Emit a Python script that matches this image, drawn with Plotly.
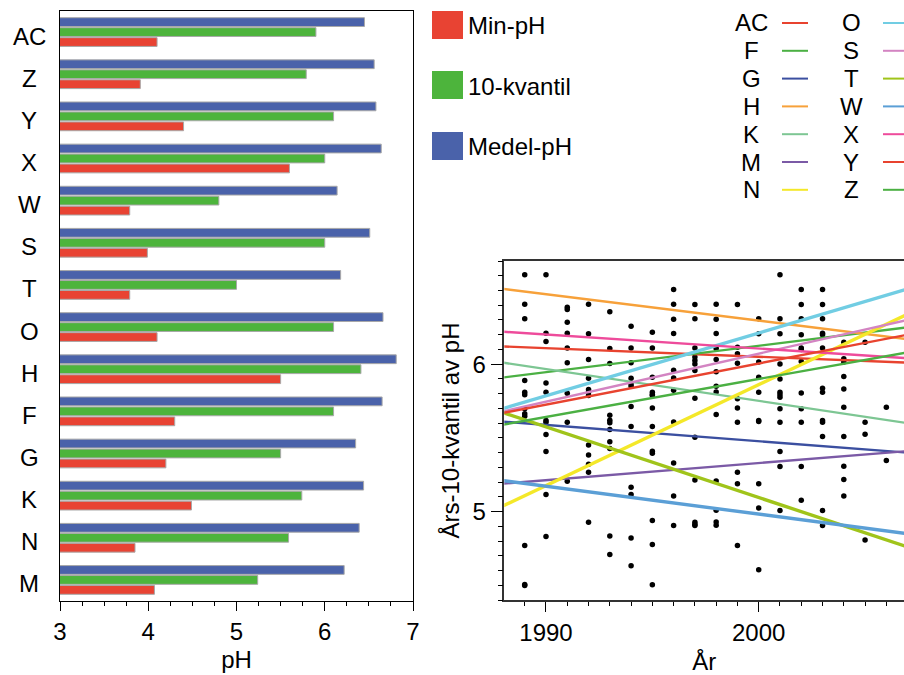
import plotly.graph_objects as go

# ---------------- Data: bar chart ----------------
stations = ["M", "N", "K", "G", "F", "H", "O", "T", "S", "W", "X", "Y", "Z", "AC"]
min_ph =    [4.07, 3.85, 4.49, 4.20, 4.30, 5.50, 4.10, 3.79, 3.99, 3.79, 5.60, 4.40, 3.91, 4.10]
kvantil10 = [5.24, 5.59, 5.74, 5.50, 6.10, 6.41, 6.10, 5.00, 6.00, 4.80, 6.00, 6.10, 5.79, 5.90]
medel_ph =  [6.22, 6.39, 6.44, 6.35, 6.65, 6.81, 6.66, 6.18, 6.51, 6.14, 6.64, 6.58, 6.56, 6.45]

bar_names = ["Min-pH", "10-kvantil", "Medel-pH"]
bar_colors = ["#e84333", "#4db43c", "#4a62aa"]

# ---------------- Data: scatter (annual 10-quantile) ----------------
dot_years = {
    1989: [6.606, 6.407, 6.308, 5.889, 5.810, 5.792, 5.697, 5.663, 5.647, 4.769, 4.498, 4.505],
    1990: [6.606, 6.210, 6.154, 5.873, 5.810, 5.618, 5.606, 5.523, 5.407, 5.115, 4.830],
    1991: [6.387, 6.371, 6.285, 6.210, 6.109, 6.009, 5.803, 5.606, 5.206],
    1992: [6.407, 6.206, 6.032, 5.905, 5.828, 5.810, 5.787, 5.452, 5.384, 5.321, 5.267, 4.927],
    1993: [6.355, 6.107, 6.005, 5.654, 5.620, 5.602, 5.557, 5.473, 5.428, 4.834, 4.708],
    1994: [6.258, 6.109, 6.009, 5.905, 5.866, 5.850, 5.713, 5.577, 5.165, 5.115, 4.821, 4.633],
    1995: [6.217, 6.109, 5.912, 5.810, 5.795, 5.787, 5.703, 5.577, 5.409, 5.396, 4.939, 4.776, 4.504],
    1996: [6.507, 6.407, 6.305, 6.208, 5.959, 5.907, 5.823, 5.608, 5.330, 5.106, 4.905],
    1997: [6.405, 6.308, 6.109, 6.048, 6.025, 6.002, 5.957, 5.769, 5.504, 5.215, 4.927, 4.912, 4.905],
    1998: [6.407, 6.305, 6.208, 6.107, 6.032, 5.948, 5.851, 5.812, 5.658, 5.208, 5.009, 4.929, 4.907],
    1999: [6.405, 6.115, 6.070, 6.007, 5.765, 5.703, 5.606, 5.267, 5.188, 4.769],
    2000: [6.308, 6.206, 6.014, 5.912, 5.810, 5.618, 5.611, 5.188, 5.025, 4.606],
    2001: [6.606, 6.308, 6.206, 6.002, 5.900, 5.810, 5.792, 5.776, 5.697, 5.606, 5.407, 5.306, 5.007],
    2002: [6.507, 6.405, 6.308, 6.199, 6.109, 6.100, 6.018, 5.805, 5.697, 5.606, 5.306, 5.077],
    2003: [6.507, 6.405, 6.308, 6.210, 6.199, 6.109, 5.837, 5.810, 5.618, 5.606, 5.509, 5.007, 4.905],
    2004: [6.149, 6.036, 6.014, 5.916, 5.832, 5.708, 5.509, 5.308, 5.217, 5.106],
    2005: [6.149, 5.606, 5.525, 4.807],
    2006: [5.708, 5.346],
}

# Trend lines per station: value at start year and end year
trend_years = [1988, 2007]
trend_names = ["AC", "F", "G", "H", "K", "M", "N", "O", "S", "T", "W", "X", "Y", "Z"]
trend_start = [6.12, 5.91, 5.61, 6.51, 6.01, 5.19, 5.04, 5.70, 5.68, 5.67, 5.21, 6.22, 5.67, 5.59]
trend_end =   [6.01, 6.25, 5.40, 6.17, 5.60, 5.41, 6.34, 6.51, 6.30, 4.76, 4.85, 6.04, 6.20, 6.08]
trend_colors = ["#e8432f", "#4bb043", "#3b4fa0", "#f7a13a", "#7dc693", "#7b5aa6", "#f4e829",
                "#71cde3", "#d384c2", "#a0c41a", "#5b9fd6", "#ee4b9b", "#e8432f", "#4bb043"]
trend_widths = [2.4, 2.4, 2.4, 2.4, 2.4, 2.4, 3.4, 3.4, 2.4, 3.4, 3.4, 2.4, 2.4, 2.4]

FONT = "Liberation Sans, Arial, sans-serif"
FS = 24
W, H = 904, 675

fig = go.Figure()

# ---- bars ----
for name, vals, col in zip(bar_names, [min_ph, kvantil10, medel_ph], bar_colors):
    fig.add_trace(go.Bar(
        y=stations, x=vals, orientation="h", name=name,
        marker=dict(color=col, line=dict(color="#a8a8a8", width=1)),
        xaxis="x", yaxis="y", showlegend=False,
    ))

# ---- scatter dots ----
xs, ys = [], []
for yr, vals in dot_years.items():
    for v in vals:
        xs.append(yr)
        ys.append(v)
fig.add_trace(go.Scatter(
    x=xs, y=ys, mode="markers", marker=dict(color="black", size=5.5),
    xaxis="x2", yaxis="y2", showlegend=False,
))

# ---- trend lines ----
for nm, s, e, c, w in zip(trend_names, trend_start, trend_end, trend_colors, trend_widths):
    fig.add_trace(go.Scatter(
        x=trend_years, y=[s, e], mode="lines", name=nm,
        line=dict(color=c, width=w),
        xaxis="x2", yaxis="y2", showlegend=False,
    ))

def px_x(p):
    return p / W

def px_y(p):
    return 1 - p / H

shapes = []
annotations = []

# ---- station labels of the bar chart (centred, placed on the category axis) ----
for st in stations:
    annotations.append(dict(text=st, xref="paper", yref="y", x=px_x(29), y=st,
                            xanchor="center", yanchor="middle", showarrow=False, yshift=-4,
                            font=dict(size=FS, color="black", family=FONT)))

# ---- legend for bars ----
leg_tops = [11, 71, 132]
for name, col, top in zip(bar_names, bar_colors, leg_tops):
    shapes.append(dict(type="rect", xref="paper", yref="paper",
                       x0=px_x(432), x1=px_x(463), y0=px_y(top + 28), y1=px_y(top),
                       fillcolor=col, line=dict(width=0)))
    annotations.append(dict(text=name, xref="paper", yref="paper",
                            x=px_x(466), y=px_y(top + 15), xanchor="left", yanchor="middle",
                            showarrow=False, font=dict(size=FS, color="black", family=FONT)))

# ---- legend for trend lines ----
for i, (nm, c) in enumerate(zip(trend_names, trend_colors)):
    col_i = i // 7
    row = i % 7
    yc = 23 + row * 27.8
    cx = 751 if col_i == 0 else 851
    lx0 = 782 if col_i == 0 else 883
    annotations.append(dict(text=nm, xref="paper", yref="paper",
                            x=px_x(cx), y=px_y(yc), xanchor="center", yanchor="middle",
                            showarrow=False, font=dict(size=FS, color="black", family=FONT)))
    shapes.append(dict(type="line", xref="paper", yref="paper",
                       x0=px_x(lx0), x1=px_x(lx0 + 26), y0=px_y(yc), y1=px_y(yc),
                       line=dict(color=c, width=2)))

fig.update_layout(
    width=W, height=H,
    margin=dict(l=0, r=0, t=0, b=0),
    paper_bgcolor="white", plot_bgcolor="white",
    font=dict(family=FONT, color="black", size=FS),
    barmode="group", bargap=0.29, bargroupgap=0.12,
    shapes=shapes, annotations=annotations,
    xaxis=dict(
        domain=[px_x(60), px_x(413)], anchor="y", automargin=False,
        range=[3, 7], tickvals=[3, 4, 5, 6, 7], ticks="outside", ticklen=9, tickwidth=1.3,
        tickcolor="black", showline=True, linecolor="black", linewidth=1.3, mirror=True,
        showgrid=False, zeroline=False,
        minor=dict(dtick=0.25, ticks="outside", ticklen=4, tickwidth=1.3, tickcolor="black", showgrid=False),
        tickfont=dict(size=FS), title=dict(text="pH", font=dict(size=FS), standoff=7),
    ),
    yaxis=dict(
        domain=[px_y(601), px_y(11)], anchor="x", automargin=False,
        type="category", categoryorder="array", categoryarray=stations,
        ticks="", showticklabels=False, showline=True, linecolor="black", linewidth=1.3,
        mirror=True, showgrid=False, zeroline=False, layer="below traces",
    ),
    xaxis2=dict(
        domain=[px_x(504.3), 1.0], anchor="y2", automargin=False,
        range=[1988.04, 2006.83], tickvals=[1990, 2000], ticks="outside", ticklen=10, tickwidth=1.3,
        tickcolor="black", showline=True, linecolor="#333", linewidth=1.5, mirror=True,
        showgrid=False, zeroline=False,
        minor=dict(dtick=1, tick0=1988, ticks="outside", ticklen=4, tickwidth=1.3, tickcolor="black", showgrid=False),
        tickfont=dict(size=FS), title=dict(text="År", font=dict(size=FS), standoff=9),
    ),
    yaxis2=dict(
        domain=[px_y(600), px_y(261)], anchor="x2", automargin=False,
        range=[4.40, 6.70], tickvals=[5, 6], ticks="outside", ticklen=12, tickwidth=1.3,
        tickcolor="black", showline=True, linecolor="#333", linewidth=1.5, mirror=False,
        showgrid=False, zeroline=False,
        minor=dict(dtick=0.1, tick0=4.5, ticks="outside", ticklen=5, tickwidth=1.3, tickcolor="black", showgrid=False),
        tickfont=dict(size=FS), title=dict(text="Års-10-kvantil av pH", font=dict(size=FS), standoff=6),
    ),
)

fig.write_html("out.html")
